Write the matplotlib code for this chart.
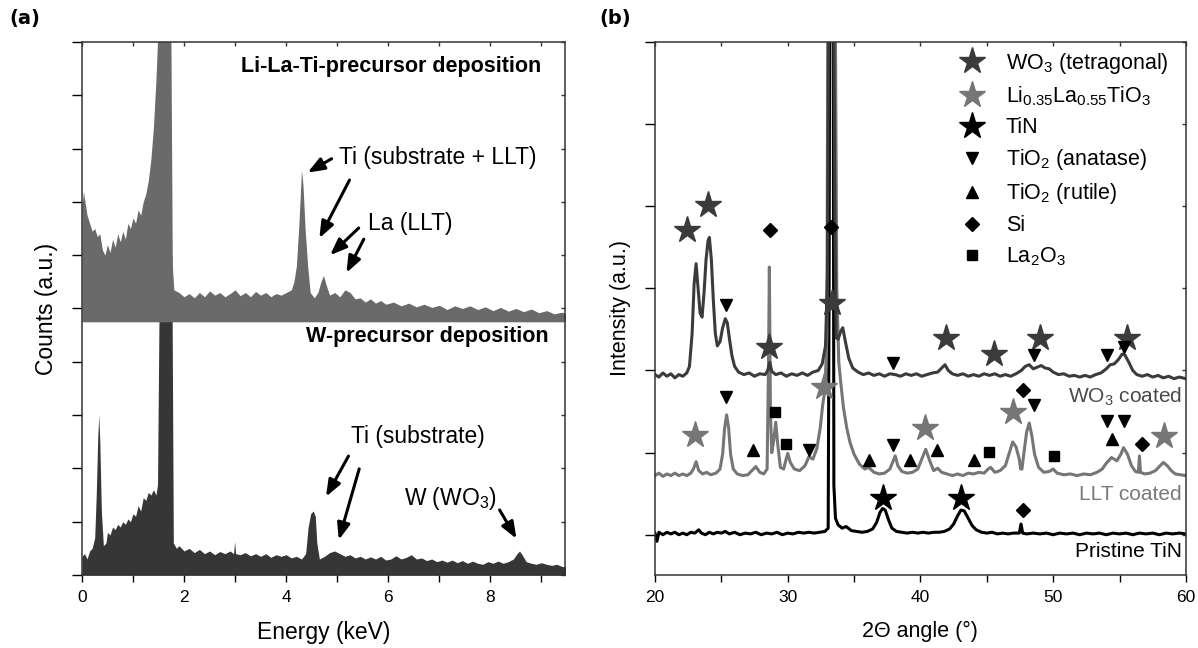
import numpy as np
import matplotlib
matplotlib.use('Agg')
import matplotlib.pyplot as plt
from matplotlib.lines import Line2D
from matplotlib.ticker import MultipleLocator, NullFormatter

plt.rcParams['font.family'] = ['Liberation Sans', 'DejaVu Sans']
plt.rcParams['mathtext.fontset'] = 'custom'
plt.rcParams['mathtext.rm'] = 'Liberation Sans'
plt.rcParams['mathtext.it'] = 'Liberation Sans:italic'
plt.rcParams['mathtext.bf'] = 'Liberation Sans:bold'

# ---- (a) EDS spectra, (energy keV, counts a.u.) ----
llt_eds = [(0.0, 6.9), (0.03, 7.2), (0.06, 7.0), (0.1, 6.75), (0.15, 6.6), (0.2, 6.45), (0.25, 6.5),
           (0.3, 6.35), (0.35, 6.4), (0.4, 6.1), (0.45, 6.0), (0.5, 6.2), (0.55, 6.05), (0.6, 6.3),
           (0.65, 6.15), (0.7, 6.4), (0.75, 6.25), (0.8, 6.45), (0.85, 6.3), (0.9, 6.6), (0.95, 6.5),
           (1.0, 6.7), (1.05, 6.6), (1.1, 6.85), (1.15, 6.75), (1.2, 7.0), (1.25, 7.15), (1.3, 7.4),
           (1.35, 7.8), (1.4, 8.4), (1.45, 9.3), (1.5, 10.5), (1.6, 11.0), (1.7, 11.0), (1.74, 10.5),
           (1.77, 5.8), (1.8, 5.35), (1.9, 5.3), (2.0, 5.22), (2.1, 5.28), (2.2, 5.2), (2.3, 5.3),
           (2.4, 5.22), (2.5, 5.33), (2.6, 5.25), (2.7, 5.3), (2.8, 5.22), (2.9, 5.28), (3.0, 5.35),
           (3.1, 5.24), (3.2, 5.3), (3.3, 5.22), (3.4, 5.32), (3.5, 5.25), (3.6, 5.3), (3.7, 5.22),
           (3.8, 5.28), (3.9, 5.25), (4.0, 5.3), (4.1, 5.35), (4.15, 5.5), (4.2, 5.8), (4.25, 6.6),
           (4.3, 7.6), (4.33, 7.3), (4.37, 6.5), (4.42, 5.8), (4.47, 5.3), (4.55, 5.2), (4.62, 5.3),
           (4.68, 5.5), (4.73, 5.62), (4.78, 5.45), (4.85, 5.25), (4.95, 5.3), (5.05, 5.22), (5.15, 5.35),
           (5.25, 5.3), (5.35, 5.18), (5.45, 5.2), (5.55, 5.12), (5.65, 5.18), (5.75, 5.1), (5.85, 5.15),
           (5.95, 5.08), (6.1, 5.12), (6.25, 5.05), (6.4, 5.1), (6.55, 5.03), (6.7, 5.08), (6.85, 5.02),
           (7.0, 5.06), (7.15, 4.98), (7.3, 5.05), (7.45, 5.0), (7.6, 5.05), (7.75, 4.98), (7.9, 5.03),
           (8.05, 4.96), (8.2, 5.02), (8.35, 4.95), (8.5, 5.0), (8.65, 4.94), (8.8, 4.99), (8.95, 4.92),
           (9.1, 4.96), (9.25, 4.9), (9.4, 4.93), (9.5, 4.9)]
llt_base = 4.75

w_eds = [(0.0, 0.35), (0.05, 0.4), (0.1, 0.3), (0.15, 0.45), (0.2, 0.5), (0.25, 0.7), (0.28, 1.5),
         (0.31, 2.6), (0.33, 3.0), (0.35, 2.5), (0.38, 1.2), (0.42, 0.55), (0.47, 0.6), (0.5, 0.8),
         (0.55, 0.75), (0.6, 0.9), (0.65, 0.85), (0.7, 0.95), (0.75, 0.9), (0.8, 1.0), (0.85, 0.95),
         (0.9, 1.05), (0.95, 1.0), (1.0, 1.15), (1.05, 1.1), (1.1, 1.3), (1.15, 1.2), (1.2, 1.45),
         (1.25, 1.4), (1.3, 1.55), (1.35, 1.5), (1.4, 1.6), (1.45, 1.5), (1.48, 1.7), (1.52, 6.0),
         (1.6, 6.0), (1.7, 6.0), (1.76, 6.0), (1.79, 0.6), (1.85, 0.5), (1.9, 0.55), (2.0, 0.45),
         (2.1, 0.5), (2.2, 0.42), (2.3, 0.48), (2.4, 0.4), (2.5, 0.45), (2.6, 0.38), (2.7, 0.44),
         (2.8, 0.4), (2.9, 0.45), (2.97, 0.4), (2.99, 0.63), (3.01, 0.4), (3.1, 0.38), (3.2, 0.42),
         (3.3, 0.36), (3.4, 0.4), (3.5, 0.35), (3.6, 0.4), (3.7, 0.33), (3.8, 0.38), (3.9, 0.35),
         (4.0, 0.38), (4.1, 0.32), (4.2, 0.35), (4.3, 0.3), (4.38, 0.4), (4.43, 0.9), (4.48, 1.15),
         (4.53, 1.2), (4.57, 1.1), (4.6, 0.6), (4.65, 0.3), (4.75, 0.35), (4.85, 0.42), (4.95, 0.45),
         (5.05, 0.4), (5.15, 0.35), (5.25, 0.38), (5.35, 0.32), (5.45, 0.35), (5.55, 0.3), (5.65, 0.34),
         (5.75, 0.3), (5.85, 0.35), (5.95, 0.28), (6.05, 0.3), (6.15, 0.36), (6.25, 0.3), (6.35, 0.33),
         (6.45, 0.38), (6.55, 0.3), (6.65, 0.32), (6.75, 0.27), (6.85, 0.3), (6.95, 0.25), (7.05, 0.28),
         (7.15, 0.24), (7.25, 0.28), (7.35, 0.23), (7.45, 0.27), (7.55, 0.22), (7.65, 0.26), (7.75, 0.22),
         (7.85, 0.2), (7.95, 0.25), (8.05, 0.22), (8.15, 0.26), (8.25, 0.22), (8.35, 0.25), (8.45, 0.3),
         (8.52, 0.4), (8.57, 0.45), (8.62, 0.38), (8.7, 0.25), (8.8, 0.22), (8.9, 0.2), (9.0, 0.23),
         (9.1, 0.2), (9.2, 0.18), (9.3, 0.2), (9.4, 0.16), (9.5, 0.15)]

# arrows in (a): (tail, tip) in data units
arrows_a = [((4.89, 7.81), (4.42, 7.55)), ((5.24, 7.41), (4.65, 6.32)),
            ((5.42, 6.51), (4.86, 6.0)), ((5.52, 6.3), (5.18, 5.67)),
            ((5.22, 2.23), (4.78, 1.47)), ((5.43, 1.99), (5.03, 0.66)),
            ((8.18, 1.22), (8.51, 0.68))]

# ---- (b) XRD patterns, (2theta, intensity offset a.u.) ----
wo3_xrd = [(20.0, 1.95), (20.3, 1.92), (20.6, 1.97), (20.9, 1.93), (21.2, 1.96), (21.5, 1.91), (21.8, 1.95),
           (22.1, 1.93), (22.4, 1.97), (22.6, 2.05), (22.8, 2.45), (22.95, 3.05), (23.1, 3.3), (23.25, 3.0),
           (23.4, 2.7), (23.55, 2.65), (23.7, 2.95), (23.85, 3.35), (24.0, 3.58), (24.1, 3.62), (24.25, 3.35),
           (24.4, 2.85), (24.55, 2.45), (24.7, 2.3), (24.9, 2.35), (25.1, 2.52), (25.3, 2.63), (25.45, 2.58),
           (25.6, 2.4), (25.8, 2.18), (26.0, 2.05), (26.3, 1.98), (26.7, 1.95), (27.1, 1.97), (27.5, 1.93),
           (27.9, 1.96), (28.3, 1.95), (28.5, 2.0), (28.65, 2.1), (28.8, 1.99), (29.1, 1.95), (29.5, 1.97),
           (29.9, 1.93), (30.3, 1.96), (30.7, 1.94), (31.1, 1.97), (31.5, 1.94), (31.9, 1.98), (32.3, 2.0),
           (32.6, 2.08), (32.85, 2.3), (33.0, 3.2), (33.1, 7.5), (33.2, 7.5), (33.45, 7.5), (33.55, 4.0),
           (33.65, 2.4), (33.8, 2.38), (34.0, 2.48), (34.15, 2.52), (34.35, 2.35), (34.6, 2.15), (34.9, 2.03),
           (35.3, 1.98), (35.7, 1.95), (36.1, 1.97), (36.5, 1.94), (36.9, 1.96), (37.3, 1.93), (37.7, 1.96),
           (38.1, 1.95), (38.5, 1.93), (38.9, 1.96), (39.3, 1.94), (39.7, 1.96), (40.1, 1.93), (40.5, 1.95),
           (40.9, 1.97), (41.3, 1.98), (41.6, 2.03), (41.85, 2.07), (42.1, 2.0), (42.4, 1.96), (42.8, 1.94),
           (43.2, 1.96), (43.6, 1.93), (44.0, 1.95), (44.4, 1.93), (44.8, 1.96), (45.2, 1.94), (45.6, 1.96),
           (46.0, 1.93), (46.4, 1.95), (46.8, 1.93), (47.2, 1.96), (47.6, 2.0), (47.9, 2.05), (48.2, 2.07),
           (48.5, 2.02), (48.8, 2.04), (49.1, 2.06), (49.4, 2.03), (49.7, 2.02), (50.0, 1.98), (50.4, 1.95),
           (50.8, 1.96), (51.2, 1.93), (51.6, 1.94), (52.0, 1.92), (52.4, 1.94), (52.8, 1.92), (53.2, 1.95),
           (53.6, 1.97), (54.0, 2.02), (54.3, 2.07), (54.6, 2.08), (54.9, 2.13), (55.2, 2.2), (55.4, 2.19),
           (55.7, 2.1), (56.0, 2.0), (56.3, 1.95), (56.7, 1.93), (57.1, 1.95), (57.5, 1.92), (57.9, 1.94),
           (58.3, 1.91), (58.7, 1.93), (59.1, 1.9), (59.5, 1.92), (60.0, 1.9)]

llt_xrd = [(20.0, 0.72), (20.3, 0.75), (20.6, 0.71), (20.9, 0.74), (21.2, 0.72), (21.5, 0.75), (21.8, 0.72),
           (22.1, 0.74), (22.4, 0.72), (22.7, 0.75), (22.9, 0.8), (23.1, 0.89), (23.3, 0.78), (23.6, 0.74),
           (23.9, 0.76), (24.2, 0.73), (24.6, 0.75), (24.9, 0.8), (25.1, 0.98), (25.25, 1.3), (25.4, 1.46),
           (25.55, 1.3), (25.7, 0.98), (25.9, 0.8), (26.2, 0.74), (26.6, 0.72), (27.0, 0.73), (27.3, 0.78),
           (27.6, 0.83), (27.9, 0.76), (28.2, 0.74), (28.45, 0.8), (28.55, 2.0), (28.62, 3.26), (28.7, 1.5),
           (28.8, 1.0), (28.95, 1.15), (29.1, 1.37), (29.25, 1.1), (29.45, 0.82), (29.7, 0.8), (29.85, 0.9),
           (30.0, 0.99), (30.2, 0.88), (30.5, 0.8), (30.9, 0.78), (31.3, 0.84), (31.6, 0.95), (31.9, 0.92),
           (32.2, 1.05), (32.45, 1.3), (32.65, 1.6), (32.8, 1.75), (32.95, 2.4), (33.05, 7.5), (33.55, 7.5),
           (33.7, 3.0), (33.85, 2.1), (34.0, 1.85), (34.2, 1.55), (34.45, 1.3), (34.7, 1.12), (35.0, 0.98),
           (35.4, 0.86), (35.8, 0.8), (36.1, 0.82), (36.5, 0.76), (36.9, 0.74), (37.3, 0.75), (37.7, 0.8),
           (37.95, 0.9), (38.1, 0.96), (38.3, 0.84), (38.6, 0.77), (39.0, 0.75), (39.4, 0.76), (39.8, 0.8),
           (40.1, 0.92), (40.4, 1.04), (40.7, 0.9), (41.0, 0.78), (41.3, 0.81), (41.6, 0.76), (42.0, 0.74),
           (42.4, 0.72), (42.8, 0.74), (43.2, 0.72), (43.6, 0.75), (44.0, 0.74), (44.4, 0.76), (44.8, 0.75),
           (45.1, 0.8), (45.3, 0.82), (45.6, 0.76), (46.0, 0.78), (46.4, 0.84), (46.7, 1.0), (46.95, 1.13),
           (47.2, 1.07), (47.45, 0.92), (47.55, 0.8), (47.65, 0.8), (47.8, 1.0), (48.0, 1.25), (48.2, 1.36),
           (48.4, 1.2), (48.6, 0.98), (48.9, 0.82), (49.3, 0.76), (49.7, 0.77), (50.0, 0.8), (50.3, 0.75),
           (50.8, 0.73), (51.3, 0.74), (51.8, 0.72), (52.3, 0.74), (52.8, 0.73), (53.3, 0.76), (53.7, 0.8),
           (54.0, 0.87), (54.4, 0.94), (54.8, 0.9), (55.1, 0.98), (55.3, 1.06), (55.6, 0.98), (55.9, 0.84),
           (56.2, 0.77), (56.42, 0.76), (56.5, 0.96), (56.58, 0.76), (56.9, 0.74), (57.3, 0.75), (57.7, 0.78),
           (58.0, 0.83), (58.3, 0.88), (58.6, 0.84), (58.9, 0.78), (59.2, 0.74), (59.6, 0.73), (60.0, 0.72)]

tin_xrd = [(20.0, 0.02), (20.15, -0.08), (20.3, 0.03), (20.6, 0.0), (20.9, 0.03), (21.2, 0.01), (21.5, 0.03),
           (21.8, 0.0), (22.1, 0.02), (22.4, 0.0), (22.7, 0.03), (23.0, 0.02), (23.3, 0.06), (23.5, 0.02),
           (23.8, 0.0), (24.1, 0.03), (24.4, 0.01), (24.7, 0.03), (25.0, 0.02), (25.3, 0.04), (25.6, 0.01),
           (26.0, 0.03), (26.4, 0.0), (26.8, 0.02), (27.2, 0.01), (27.6, 0.03), (28.0, 0.0), (28.4, 0.02),
           (28.8, 0.01), (29.2, 0.03), (29.6, 0.0), (30.0, 0.02), (30.4, 0.01), (30.8, 0.03), (31.2, 0.02),
           (31.6, 0.03), (32.0, 0.02), (32.4, 0.03), (32.8, 0.04), (33.05, 0.08), (33.12, 3.0), (33.18, 7.5),
           (33.42, 7.5), (33.48, 0.6), (33.6, 0.2), (33.8, 0.12), (34.1, 0.08), (34.4, 0.1), (34.8, 0.05),
           (35.2, 0.04), (35.6, 0.03), (36.0, 0.04), (36.4, 0.07), (36.7, 0.15), (36.95, 0.27), (37.15, 0.32),
           (37.35, 0.3), (37.6, 0.18), (37.85, 0.08), (38.2, 0.04), (38.6, 0.03), (39.0, 0.02), (39.4, 0.03),
           (39.8, 0.02), (40.2, 0.03), (40.6, 0.02), (41.0, 0.03), (41.4, 0.03), (41.8, 0.04), (42.2, 0.07),
           (42.5, 0.13), (42.8, 0.23), (43.05, 0.3), (43.3, 0.29), (43.6, 0.2), (43.9, 0.11), (44.2, 0.06),
           (44.6, 0.03), (45.0, 0.02), (45.4, 0.03), (45.8, 0.01), (46.2, 0.02), (46.6, 0.01), (47.0, 0.02),
           (47.45, 0.02), (47.58, 0.13), (47.7, 0.02), (48.0, 0.01), (48.5, 0.02), (49.0, 0.01), (49.5, 0.02),
           (50.0, 0.0), (50.5, 0.02), (51.0, 0.01), (51.5, 0.02), (52.0, 0.0), (52.5, 0.02), (53.0, 0.01),
           (53.5, 0.02), (54.0, 0.0), (54.5, 0.02), (55.0, 0.01), (55.5, 0.02), (56.0, 0.0), (56.5, 0.02),
           (57.0, 0.01), (57.5, 0.02), (58.0, 0.0), (58.5, 0.02), (59.0, 0.01), (59.5, 0.02), (60.0, 0.01)]

# phase markers (2theta, height)
wo3_stars = [(22.45, 3.71), (24.03, 4.01), (28.56, 2.29), (33.37, 2.82), (41.96, 2.40),
             (45.56, 2.20), (49.02, 2.40), (55.56, 2.40)]
llt_stars = [(23.03, 1.22), (32.74, 1.80), (40.32, 1.30), (46.95, 1.50), (58.33, 1.20)]
tin_stars = [(37.2, 0.45), (43.05, 0.45)]
anatase = [(25.39, 2.80), (37.93, 2.09), (48.53, 2.19), (54.06, 2.19), (55.36, 2.29),
           (25.39, 1.68), (31.58, 1.03), (37.93, 1.09), (48.53, 1.58), (54.06, 1.38), (55.36, 1.38)]
rutile = [(27.41, 1.03), (36.14, 0.91), (39.22, 0.91), (41.24, 1.03), (44.03, 0.91), (54.44, 1.16)]
si = [(28.65, 3.71), (33.23, 3.75), (47.72, 1.76), (56.71, 1.11), (47.72, 0.30)]
la2o3 = [(29.05, 1.50), (29.91, 1.11), (45.13, 1.01), (50.09, 0.96)]

c_wo3 = '#3b3b3b'
c_llt = '#767676'
c_tin = '#000000'
c_top = '#6a6a6a'
c_bot = '#363636'

fig = plt.figure(figsize=(11.98, 6.48), dpi=100)
ax1 = fig.add_axes([0.0684, 0.1127, 0.4032, 0.8225])
ax2 = fig.add_axes([0.5467, 0.1127, 0.4432, 0.8225])

# ---------- panel (a) ----------
we = np.array(w_eds)
ax1.fill_between(we[:, 0], 0, we[:, 1], color=c_bot, lw=0, zorder=1)
le = np.array(llt_eds)
ax1.fill_between(le[:, 0], llt_base, le[:, 1], color=c_top, lw=0, zorder=2)
ax1.set_xlim(0, 9.46)
ax1.set_ylim(0, 10)
ax1.xaxis.set_major_locator(MultipleLocator(2))
ax1.xaxis.set_minor_locator(MultipleLocator(1))
ax1.yaxis.set_major_locator(MultipleLocator(1))
ax1.yaxis.set_major_formatter(NullFormatter())
ax1.set_xlabel('Energy (keV)', fontsize=16.5, labelpad=11)
ax1.set_ylabel('Counts (a.u.)', fontsize=16.5, labelpad=7)

ax1.text(9.0, 9.54, 'Li-La-Ti-precursor deposition', fontsize=15.5, fontweight='bold', ha='right', va='center')
ax1.text(9.14, 4.47, 'W-precursor deposition', fontsize=15.5, fontweight='bold', ha='right', va='center')
ax1.text(5.03, 7.84, 'Ti (substrate + LLT)', fontsize=16.5, ha='left', va='center')
ax1.text(5.6, 6.6, 'La (LLT)', fontsize=16.5, ha='left', va='center')
ax1.text(5.26, 2.59, 'Ti (substrate)', fontsize=16.5, ha='left', va='center')
ax1.text(6.31, 1.44, 'W (WO$_3$)', fontsize=16.5, ha='left', va='center')
for tail, tip in arrows_a:
    ax1.annotate('', xy=tip, xytext=tail, zorder=5,
                 arrowprops=dict(arrowstyle='-|>,head_length=0.9,head_width=0.35',
                                 color='k', lw=2.2, mutation_scale=11, shrinkA=0, shrinkB=0))

# ---------- panel (b) ----------
for data, col in [(tin_xrd, c_tin), (llt_xrd, c_llt), (wo3_xrd, c_wo3)]:
    d = np.array(data)
    ax2.plot(d[:, 0], d[:, 1], color=col, lw=2.2, zorder=2)


def put(pts, marker, ms, col):
    p = np.array(pts)
    ax2.plot(p[:, 0], p[:, 1], ls='none', marker=marker, ms=ms, color=col, mec=col, zorder=4)


put(wo3_stars, '*', 20, c_wo3)
put(llt_stars, '*', 20, c_llt)
put(tin_stars, '*', 20, c_tin)
put(anatase, 'v', 8.5, 'k')
put(rutile, '^', 8.5, 'k')
put(si, 'D', 7, 'k')
put(la2o3, 's', 7, 'k')

ax2.text(59.7, 1.68, 'WO$_3$ coated', fontsize=15, color='#4a4a4a', ha='right', va='center')
ax2.text(59.7, 0.49, 'LLT coated', fontsize=15, color='#7a7a7a', ha='right', va='center')
ax2.text(59.7, -0.2, 'Pristine TiN', fontsize=15, color='k', ha='right', va='center')

ax2.set_xlim(20, 60)
ax2.set_ylim(-0.49, 6.0)
ax2.xaxis.set_major_locator(MultipleLocator(10))
ax2.xaxis.set_minor_locator(MultipleLocator(5))
ax2.yaxis.set_major_locator(MultipleLocator(1))
ax2.yaxis.set_major_formatter(NullFormatter())
ax2.set_xlabel('2\u0398 angle (\u00b0)', fontsize=15.5, labelpad=11)
ax2.set_ylabel('Intensity (a.u.)', fontsize=15.5, labelpad=7)

handles = [
    Line2D([], [], ls='none', marker='*', ms=20, color=c_wo3),
    Line2D([], [], ls='none', marker='*', ms=20, color=c_llt),
    Line2D([], [], ls='none', marker='*', ms=20, color=c_tin),
    Line2D([], [], ls='none', marker='v', ms=8.5, color='k'),
    Line2D([], [], ls='none', marker='^', ms=8.5, color='k'),
    Line2D([], [], ls='none', marker='D', ms=7, color='k'),
    Line2D([], [], ls='none', marker='s', ms=7, color='k'),
]
labels = ['WO$_3$ (tetragonal)', 'Li$_{0.35}$La$_{0.55}$TiO$_3$', 'TiN', 'TiO$_2$ (anatase)',
          'TiO$_2$ (rutile)', 'Si', 'La$_2$O$_3$']
leg = ax2.legend(handles, labels, loc='upper left', bbox_to_anchor=(0.539, 1.012), frameon=False,
                 fontsize=15.5, handlelength=1.5, handletextpad=0.8, labelspacing=0.42, borderpad=0.2)
leg.set_zorder(6)

for ax in (ax1, ax2):
    ax.tick_params(axis='x', which='both', direction='out', length=5, width=1, labelsize=12.5, pad=6)
    ax.tick_params(axis='y', which='both', direction='out', length=7, width=1)
    for s in ax.spines.values():
        s.set_linewidth(1.1)
        s.set_color('#333333')
    # small inward ticks on the opposite spines
    top = ax.secondary_xaxis('top')
    top.xaxis.set_major_locator(ax.xaxis.get_minor_locator())
    top.tick_params(direction='in', length=3, width=1, labeltop=False, color='#333333')
    top.spines['top'].set_visible(False)
    right = ax.secondary_yaxis('right')
    right.yaxis.set_major_locator(MultipleLocator(1))
    right.tick_params(direction='in', length=3, width=1, labelright=False, color='#333333')
    right.spines['right'].set_visible(False)

fig.text(0.008, 0.972, '(a)', fontsize=14, fontweight='bold', family='DejaVu Sans', va='center')
fig.text(0.500, 0.972, '(b)', fontsize=14, fontweight='bold', family='DejaVu Sans', va='center')

fig.savefig('out.png', dpi=100)
